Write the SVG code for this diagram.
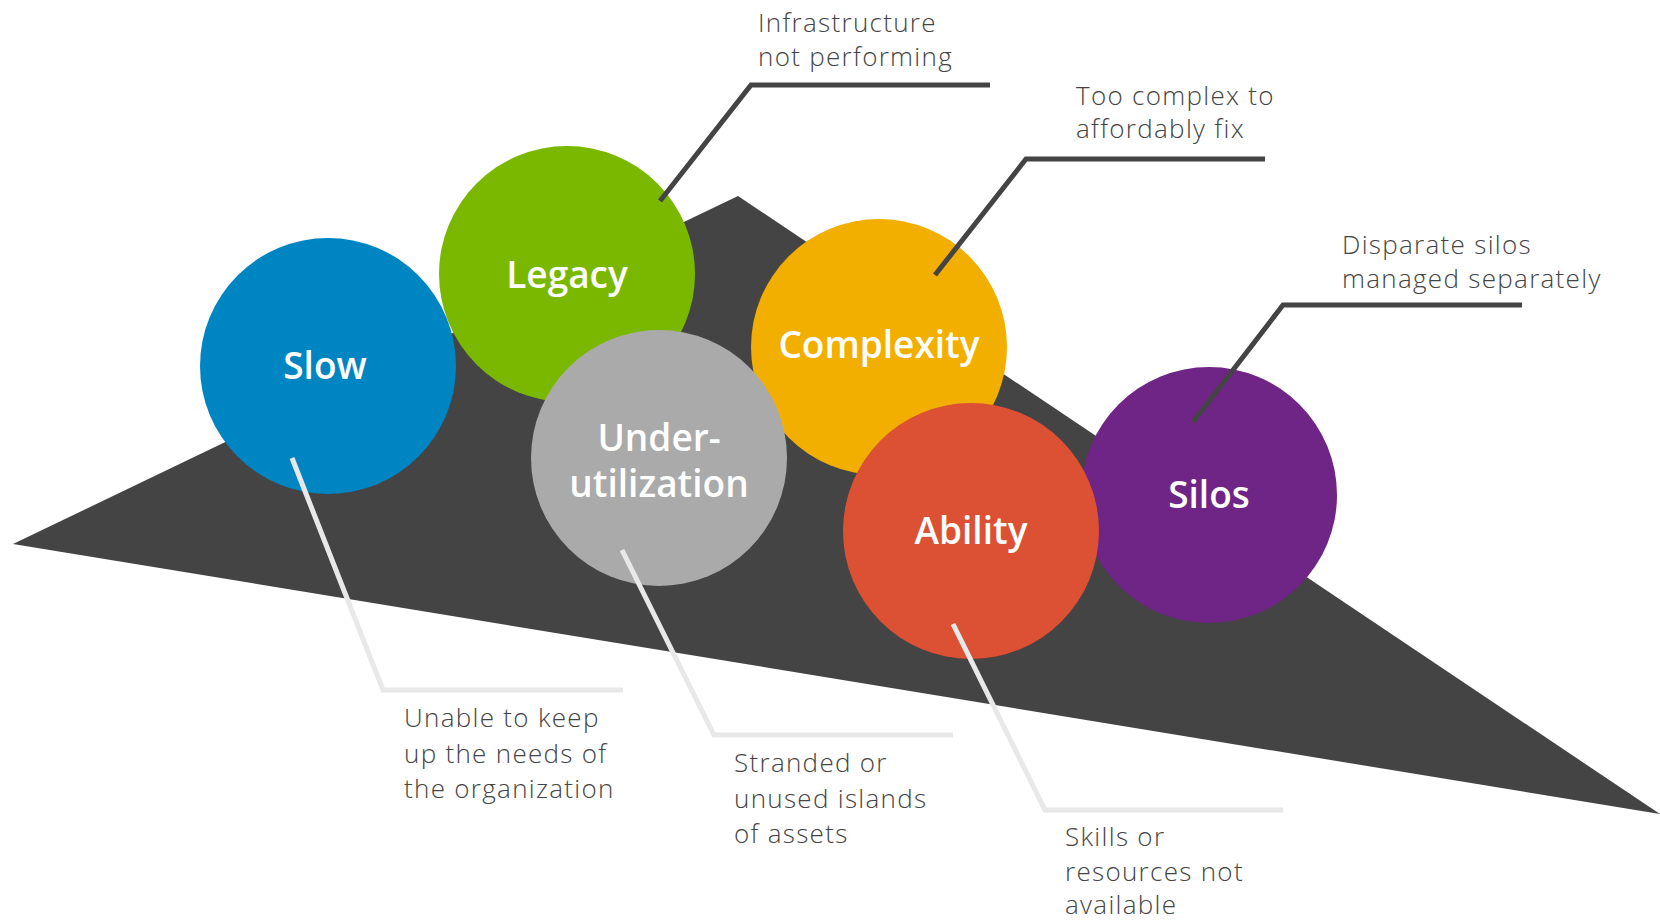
<svg xmlns="http://www.w3.org/2000/svg" width="1660" height="920" viewBox="0 0 1660 920">
<style>
.lbl{font-family:"Open Sans","Liberation Sans",sans-serif;font-weight:300;font-size:26px;letter-spacing:1.3px;fill:#444444}
.cap{font-family:"Open Sans","Liberation Sans",sans-serif;font-weight:600;font-size:37px;fill:#ffffff;text-anchor:middle}
.dk{fill:none;stroke:#444444;stroke-width:5}
.lt{fill:none;stroke:#e8e8e8;stroke-width:5}
</style>
<rect width="1660" height="920" fill="#ffffff"/>
<polygon id="mountain" points="13,544 738,196 1660,814" fill="#444444"/>
<g id="legacy"><circle cx="567" cy="274" r="128" fill="#7ab800"/><text class="cap" x="567" y="288">Legacy</text></g>
<g id="slow"><circle cx="328" cy="366" r="128" fill="#0085c3"/><text class="cap" x="325" y="379">Slow</text></g>
<g id="complexity"><circle cx="879" cy="347" r="128" fill="#f2af00"/><text class="cap" x="879" y="358">Complexity</text></g>
<g id="underutilization"><circle cx="659" cy="458" r="128" fill="#aaaaaa"/><text class="cap" x="659" y="451">Under-</text><text class="cap" x="659" y="497">utilization</text></g>
<g id="silos"><circle cx="1209" cy="495" r="128" fill="#6e2585"/><text class="cap" x="1209" y="508">Silos</text></g>
<g id="ability"><circle cx="971" cy="531" r="128" fill="#dc5034"/><text class="cap" x="971" y="544">Ability</text></g>
<g id="connectors">
<polyline class="dk" points="660,201 751,85 990,85"/>
<polyline class="dk" points="935,275 1026,159 1265,159"/>
<polyline class="dk" points="1193,422 1283,305 1522,305"/>
<polyline class="lt" points="292,458 383,690 623,690"/>
<polyline class="lt" points="622,550 714,735 953,735"/>
<polyline class="lt" points="953,624 1045,810 1283,810"/>
</g>
<g id="labels">
<text class="lbl" x="758" y="32">Infrastructure</text>
<text class="lbl" x="758" y="66">not performing</text>
<text class="lbl" x="1076" y="105">Too complex to</text>
<text class="lbl" x="1076" y="138">affordably fix</text>
<text class="lbl" x="1342" y="254">Disparate silos</text>
<text class="lbl" x="1342" y="288">managed separately</text>
<text class="lbl" x="404" y="727">Unable to keep</text>
<text class="lbl" x="404" y="763">up the needs of</text>
<text class="lbl" x="404" y="798">the organization</text>
<text class="lbl" x="734" y="772">Stranded or</text>
<text class="lbl" x="734" y="808">unused islands</text>
<text class="lbl" x="734" y="843">of assets</text>
<text class="lbl" x="1065" y="846">Skills or</text>
<text class="lbl" x="1065" y="881">resources not</text>
<text class="lbl" x="1065" y="914">available</text>
</g>
</svg>
